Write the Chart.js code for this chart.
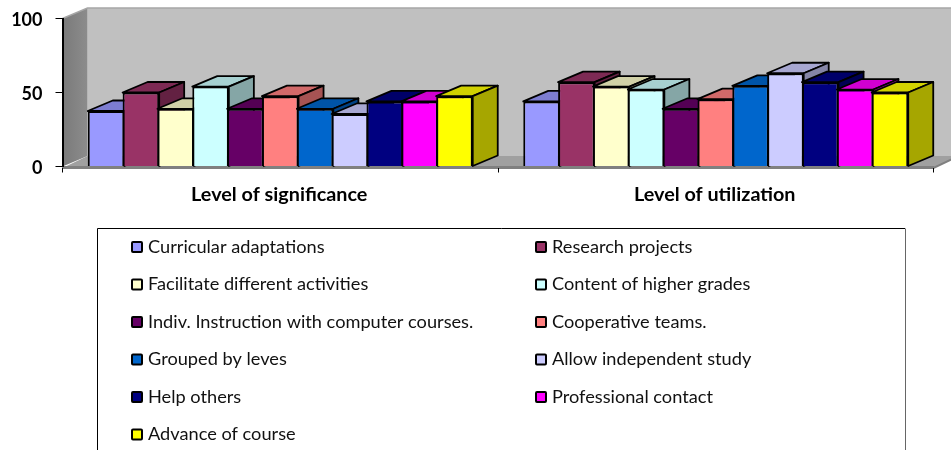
<!DOCTYPE html>
<html><head><meta charset="utf-8">
<style>html,body{margin:0;padding:0;background:#fff;overflow:hidden}canvas{display:block}</style>
<script src="https://cdn.jsdelivr.net/npm/chart.js@4"></script></head>
<body><canvas id="c" width="951" height="450"></canvas>
<script>
const categories = ["Level of significance", "Level of utilization"];
const seriesNames = ["Curricular adaptations","Research projects","Facilitate different activities","Content of higher grades","Indiv. Instruction with computer courses.","Cooperative teams.","Grouped by leves","Allow independent study","Help others","Professional contact","Advance of course"];
const significance = [37.5,50,39,54,39,47.5,39,35.5,44,44,47.5];
const utilization = [44,57,54,52,39,45.5,54.5,63,57,52,50];
const colors = ["#9999FF","#993366","#FFFFCC","#CCFFFF","#660066","#FF8080","#0066CC","#CCCCFF","#000080","#FF00FF","#FFFF00"];
const yTicks = [0,50,100];

const DX = 25, DY = -10.5;
function shade(hex,f){
  const n=parseInt(hex.slice(1),16);
  return `rgb(${Math.round((n>>16&255)*f)},${Math.round((n>>8&255)*f)},${Math.round((n&255)*f)})`;
}
function poly(ctx,pts,fill,stroke,lw){
  ctx.beginPath();pts.forEach((p,i)=>i?ctx.lineTo(p[0],p[1]):ctx.moveTo(p[0],p[1]));ctx.closePath();
  ctx.fillStyle=fill;ctx.fill();
  if(stroke){ctx.strokeStyle=stroke;ctx.lineWidth=lw;ctx.lineJoin='round';ctx.stroke();}
}
const walls = {
  id:'walls',
  beforeDraw(chart){
    const {ctx,chartArea:a}=chart;
    ctx.save();
    poly(ctx,[[a.left+DX,a.top+DY],[a.right+DX,a.top+DY],[a.right+DX,a.bottom+DY],[a.left+DX,a.bottom+DY]],'#C0C0C0');
    const g=ctx.createLinearGradient(a.left,0,a.left+DX,0);g.addColorStop(0,'#7a7a7a');g.addColorStop(1,'#8c8c8c');
    poly(ctx,[[a.left,a.top],[a.left+DX,a.top+DY],[a.left+DX,a.bottom+DY],[a.left,a.bottom]],g);
    poly(ctx,[[a.left,a.bottom+1.5],[a.left+DX,a.bottom+DY],[a.right+DX,a.bottom+DY],[a.right,a.bottom+1.5]],'#A0A0A0');
    ctx.strokeStyle='#A6A6A6';ctx.lineWidth=1.5;
    ctx.beginPath();ctx.moveTo(a.left,a.top);ctx.lineTo(a.left+DX,a.top+DY);ctx.lineTo(a.right+DX,a.top+DY);ctx.stroke();
    ctx.strokeStyle='#808080';ctx.lineWidth=2;
    ctx.beginPath();ctx.moveTo(a.left,a.bottom+1.5);ctx.lineTo(a.right,a.bottom+1.5);ctx.lineTo(a.right+DX,a.bottom+DY);ctx.stroke();
    ctx.restore();
  }
};
const bars3d = {
  id:'bars3d',
  beforeDatasetDraw(){return false;},
  afterDatasetsDraw(chart){
    const ctx=chart.ctx;
    ctx.save();
    chart.data.datasets.forEach((ds,i)=>{
      chart.getDatasetMeta(i).data.forEach(el=>{
        const {x,y,base,width}=el.getProps(['x','y','base','width'],true);
        const l=x-width/2,r=x+width/2;
        poly(ctx,[[l,y],[l+DX,y+DY],[r+DX,y+DY],[r,y]],shade(ds.backgroundColor,0.82),'#000',1.8);
        poly(ctx,[[r,y],[r+DX,y+DY],[r+DX,base+DY],[r,base]],shade(ds.backgroundColor,0.65),'#000',1.8);
        el.draw(ctx);
      });
    });
    ctx.restore();
  }
};
const legendBox = {
  id:'legendBox',
  afterDraw(chart){
    const ctx=chart.ctx;
    ctx.save();
    ctx.strokeStyle='#000';ctx.lineWidth=1;
    ctx.beginPath();ctx.moveTo(97.5,451);ctx.lineTo(97.5,228.5);ctx.lineTo(905,228.5);ctx.stroke();
    ctx.strokeStyle='#666';ctx.beginPath();ctx.moveTo(905.5,228.5);ctx.lineTo(905.5,451);ctx.stroke();
    ctx.font='18.2px Lato';ctx.textBaseline='middle';ctx.textAlign='left';
    seriesNames.forEach((name,i)=>{
      const col=i%2,row=Math.floor(i/2);
      const bx=col?536:132,cy=247+row*37.5;
      ctx.fillStyle=colors[i];ctx.strokeStyle='#000';ctx.lineWidth=2;
      ctx.beginPath();ctx.roundRect(bx,cy-5,10,10,1);ctx.fill();ctx.stroke();
      ctx.fillStyle='#111';
      ctx.fillText(name,col?552:148,cy);
    });
    ctx.restore();
  }
};
new Chart(document.getElementById('c'),{
  type:'bar',
  data:{labels:categories,datasets:seriesNames.map((n,i)=>({
    label:n,data:[significance[i],utilization[i]],backgroundColor:colors[i],
    borderColor:'#000',borderWidth:2,barPercentage:1.05,categoryPercentage:0.88
  }))},
  options:{
    responsive:false,animation:false,
    layout:{padding:{left:0,right:17.5,top:18.5,bottom:0}},
    plugins:{legend:{display:false},title:{display:false},tooltip:{enabled:false}},
    scales:{
      x:{
        grid:{drawOnChartArea:false,tickLength:6,color:'#000',offset:true},
        border:{color:'#808080',width:2},
        ticks:{color:'#000',padding:10,maxRotation:0,labelOffset:-1,font:{family:'Lato',size:19.8,weight:'bold'}},
        afterFit(s){s.height=450-166.5;}
      },
      y:{
        min:0,max:100,
        afterBuildTicks(s){s.ticks=yTicks.map(v=>({value:v}));},
        grid:{drawOnChartArea:false,tickLength:7,color:'#000'},
        border:{color:'#000',width:2},
        ticks:{color:'#000',padding:13,labelOffset:1.5,font:{family:'Lato',size:18,weight:'bold'}},
        afterFit(s){s.width=62.5;s.paddingTop=0;s.paddingBottom=0;}
      }
    }
  },
  plugins:[walls,bars3d,legendBox]
});
</script></body></html>
